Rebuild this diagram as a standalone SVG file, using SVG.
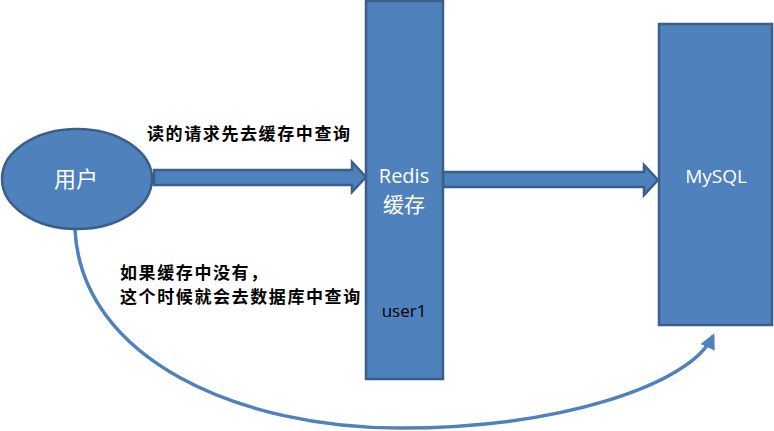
<svg xmlns="http://www.w3.org/2000/svg" width="774" height="431" viewBox="0 0 774 431">
<defs>
<style>
.shape{fill:#4F81BD;stroke:#3A5F8B;stroke-width:2.5}
.wt{fill:#ffffff;font-family:"Open Sans","Noto Sans CJK SC",sans-serif;text-anchor:middle}
.lbl{fill:#000000;font-family:"Noto Sans CJK SC",sans-serif;font-weight:bold;font-size:17px;letter-spacing:1.6px}
.curve{fill:none;stroke:#4F81BD;stroke-width:3.5}
</style>
<marker id="ah" viewBox="0 0 10 10" refX="8" refY="5" markerWidth="4.5" markerHeight="4.5" orient="auto">
<path d="M0,0 L10,5 L0,10 Z" fill="#4F81BD"/>
</marker>
</defs>
<rect width="774" height="431" fill="#ffffff"/>
<g id="connectors">
<path class="shape" d="M154,170 L352,170 L352,162 L366,177 L352,192 L352,185 L154,185 Z"/>
<path class="shape" d="M443,172 L644,172 L644,165 L658,180 L644,195 L644,187 L443,187 Z"/>
<path class="curve" d="M75,230 C82,360 240,428 400,428 C560,428 690,385 713,336" marker-end="url(#ah)"/>
<text class="lbl" x="147" y="140">读的请求先去缓存中查询</text>
<text class="lbl" x="120" y="279">如果缓存中没有，</text>
<text class="lbl" x="120" y="303">这个时候就会去数据库中查询</text>
</g>
<g id="user">
<ellipse class="shape" cx="77" cy="179" rx="75" ry="50"/>
<text class="wt" x="76" y="187" font-size="22">用户</text>
</g>
<g id="redis">
<rect class="shape" x="366" y="1" width="77" height="378"/>
<text class="wt" x="404" y="183" font-size="20">Redis</text>
<text class="wt" x="404" y="212" font-size="21">缓存</text>
<text x="404" y="317" font-size="17" text-anchor="middle" font-family="Open Sans,sans-serif" fill="#000000">user1</text>
</g>
<g id="mysql">
<rect class="shape" x="659" y="24" width="113" height="301"/>
<text class="wt" x="716" y="183" font-size="19">MySQL</text>
</g>
</svg>
